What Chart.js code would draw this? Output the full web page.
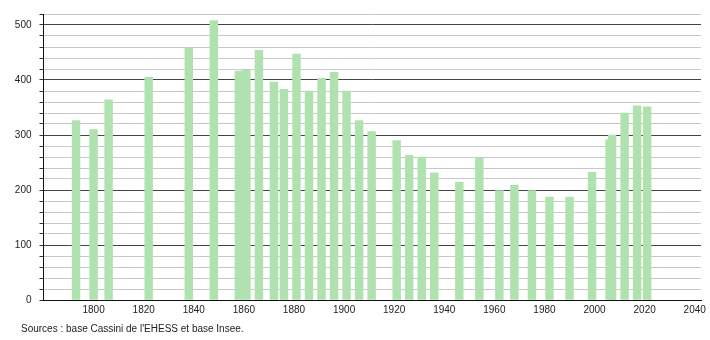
<!DOCTYPE html>
<html lang="fr">
<head>
  <meta charset="UTF-8">
  <title>Population</title>
  <script src="https://cdn.jsdelivr.net/npm/chart.js"></script>
  <style>
    body { margin: 0; background: #fff; }
    #wrap { position: relative; width: 710px; height: 340px; }
    #source { position: absolute; left: 21px; top: 323px; font: 10px "Liberation Sans", Arial, sans-serif; color: #222; }
  </style>
</head>
<body>

  <div id="wrap">
    <canvas id="popChart" width="710" height="340"></canvas>
    <div id="source">Sources : base Cassini de l'EHESS et base Insee.</div>
  </div>

  <script>
    const years = [1793, 1800, 1806, 1822, 1838, 1848, 1858, 1861, 1866, 1872, 1876, 1881, 1886, 1891, 1896,
      1901, 1906, 1911, 1921, 1926, 1931, 1936, 1946, 1954, 1962, 1968, 1975, 1982, 1990, 1999,
      2006, 2007, 2012, 2017, 2021];
    const population = [326, 310, 364, 405, 458, 508, 416, 418, 454, 396, 383, 447, 380, 403, 414,
      380, 326, 306, 290, 263, 260, 231, 214, 258, 199, 209, 199, 187, 187, 232,
      291, 300, 340, 353, 351];
    const xTicks = [1800, 1820, 1840, 1860, 1880, 1900, 1920, 1940, 1960, 1980, 2000, 2020, 2040];
    const yTicks = [0, 20, 40, 60, 80, 100, 120, 140, 160, 180, 200, 220, 240, 260, 280, 300,
      320, 340, 360, 380, 400, 420, 440, 460, 480, 500, 520];

    const font = { family: '"Liberation Sans", Arial, sans-serif', size: 10 };

    new Chart(document.getElementById('popChart'), {
      type: 'bar',
      data: {
        datasets: [{
          data: years.map((x, i) => ({ x: x, y: population[i] })),
          backgroundColor: '#b0e2b0',
          borderWidth: 0,
          barThickness: 7.8
        }]
      },
      options: {
        responsive: false,
        animation: false,
        layout: { padding: { top: 10.5, right: 9, left: 0, bottom: 0 } },
        plugins: { legend: { display: false }, tooltip: { enabled: false } },
        scales: {
          x: {
            type: 'linear',
            offset: false,
            min: 1780,
            max: 2042.5,
            afterBuildTicks: s => { s.ticks = xTicks.map(v => ({ value: v })); },
            afterFit: s => { s.height = 40; },
            grid: { display: true, color: 'rgba(0,0,0,0)', drawTicks: false },
            border: { display: true, color: '#111', width: 1 },
            ticks: {
              font: font, color: '#222', padding: 4, maxRotation: 0, autoSkip: false,
              callback: v => String(v)
            }
          },
          y: {
            min: 0,
            max: 520,
            afterBuildTicks: s => { s.ticks = yTicks.map(v => ({ value: v })); },
            afterFit: s => { s.width = 43.5; },
            grid: {
              color: c => (c.tick && c.tick.value % 100 === 0) ? '#444' : '#c8c8c8',
              tickColor: '#333',
              tickLength: 4,
              lineWidth: 1
            },
            border: { display: true, color: '#111', width: 1 },
            ticks: {
              font: font,
              color: '#222',
              padding: 8,
              autoSkip: false,
              callback: v => (v % 100 === 0 && v <= 500) ? String(v) : ''
            }
          }
        }
      }
    });
  </script>

</body>
</html>
